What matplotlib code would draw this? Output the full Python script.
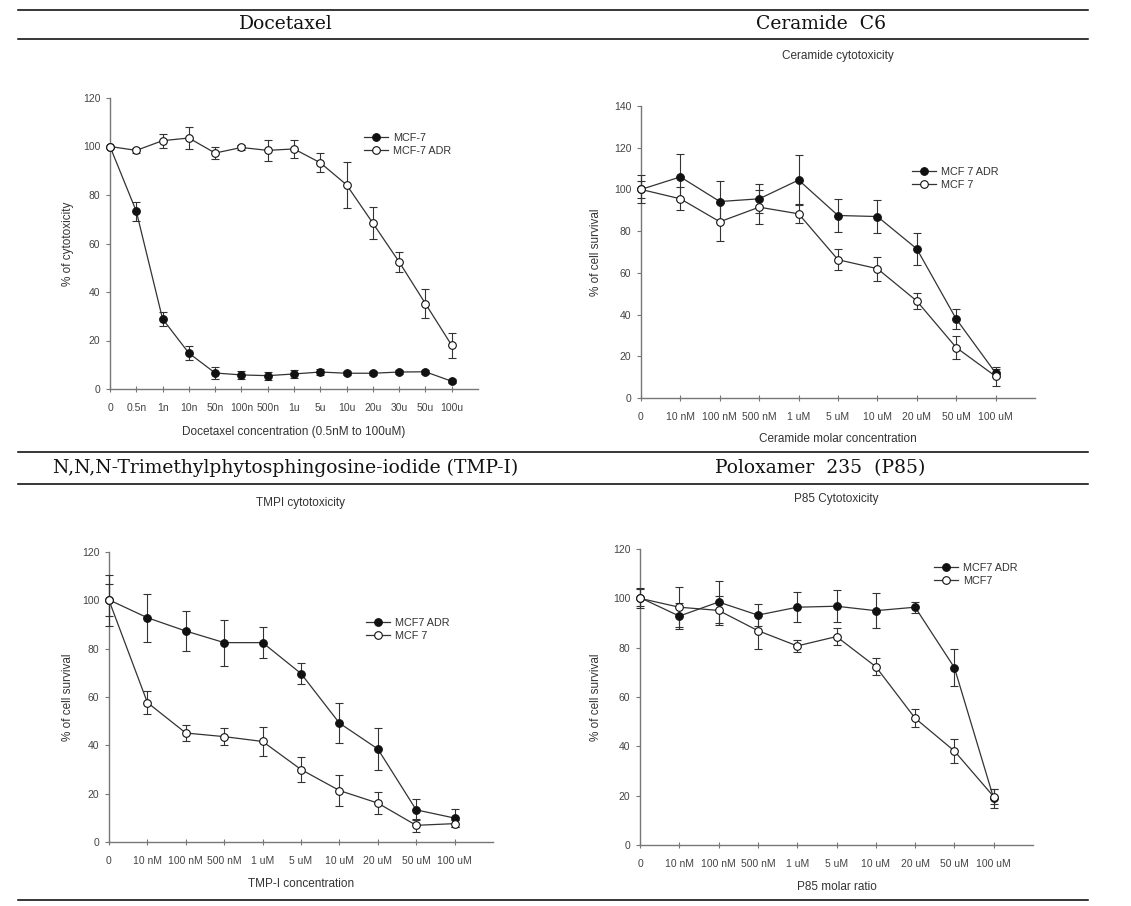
import matplotlib
matplotlib.use('Agg')
import matplotlib.pyplot as plt
from matplotlib.lines import Line2D

plt.rcParams['font.family'] = ['Liberation Sans', 'DejaVu Sans']

W, H = 1131, 906

# --- Docetaxel ---
doc_labels = ['0', '0.5n', '1n', '10n', '50n', '100n', '500n', '1u', '5u',
              '10u', '20u', '30u', '50u', '100u']
doc_mcf7 = [100, 73.3, 28.9, 14.8, 6.6, 5.8, 5.5, 6.2, 7.0, 6.5, 6.5, 7.0, 7.1, 3.2]
doc_mcf7_err = [0, 4, 3, 2.8, 2.3, 1.8, 1.7, 1.6, 1.2, 0.8, 0.8, 1.0, 0.8, 0.8]
doc_adr = [100, 98.4, 102.4, 103.5, 97.3, 99.6, 98.4, 99, 93.3, 84.2, 68.4, 52.4, 35.2, 18]
doc_adr_err = [0, 1, 2.9, 4.7, 2.3, 0.9, 4.3, 3.7, 4, 9.6, 6.6, 4.1, 6, 5.1]

# --- Ceramide C6 ---
conc_labels = ['0', '10 nM', '100 nM', '500 nM', '1 uM', '5 uM', '10 uM',
               '20 uM', '50 uM', '100 uM']
cer_adr = [100, 106, 94.2, 95.5, 104.5, 87.5, 87, 71.5, 37.9, 12]
cer_adr_err = [4, 11, 10, 7, 12, 8, 8, 7.5, 5, 2]
cer_mcf7 = [100, 95.5, 84.5, 91.5, 88.3, 66.3, 62, 46.5, 24.2, 10.4]
cer_mcf7_err = [6.7, 5.5, 9, 8, 4.5, 5, 5.8, 4, 5.7, 4.5]

# --- TMP-I ---
tmp_adr = [100.2, 92.8, 87.3, 82.5, 82.5, 69.7, 49.2, 38.5, 13.3, 9.9]
tmp_adr_err = [6.5, 10, 8.3, 9.5, 6.3, 4.3, 8.3, 8.5, 4.3, 3.8]
tmp_mcf7 = [100, 57.7, 45.1, 43.6, 41.6, 30, 21.3, 16.1, 6.9, 7.6]
tmp_mcf7_err = [10.5, 4.8, 3.3, 3.4, 6, 5, 6.5, 4.5, 2.8, 1.5]

# --- P85 ---
p85_adr = [100.3, 92.8, 98.5, 93.2, 96.4, 96.8, 95, 96.4, 71.9, 18.9]
p85_adr_err = [3.6, 5.2, 8.5, 4.4, 6, 6.5, 7, 2.3, 7.5, 4]
p85_mcf7 = [100, 96.4, 95.1, 86.9, 80.7, 84.5, 72.3, 51.4, 38.1, 19.6]
p85_mcf7_err = [4, 8, 6, 7.3, 2.3, 3.3, 3.4, 3.6, 4.7, 3]


def fx(px):
    return px / W


def fy(py):
    return 1 - py / H


def panel(fig, box, labels, series, ymax, ystep, ylabel, xlabel, xmax,
          ylab_x, xlab_y, leg_xy, title=None, title_y=None):
    left, right, top, bottom = box
    ax = fig.add_axes([fx(left), fy(bottom), fx(right) - fx(left), fy(top) - fy(bottom)])
    x = list(range(len(labels)))
    handles = []
    for vals, errs, filled, name in series:
        face = '#111111' if filled else 'white'
        style = dict(color='#333333', lw=0.9, marker='o', ms=5.5, mfc=face,
                     mec='#111111', mew=0.8)
        ax.errorbar(x, vals, yerr=errs, elinewidth=0.8, capsize=3, capthick=0.8,
                    clip_on=False, zorder=3, **style)
        handles.append(Line2D([], [], label=name, **style))
    ax.set_xlim(0, xmax)
    ax.set_ylim(0, ymax)
    ax.set_xticks(x)
    ax.set_xticklabels(labels)
    ax.set_yticks(range(0, ymax + 1, ystep))
    for s in ['top', 'right']:
        ax.spines[s].set_visible(False)
    for s in ['left', 'bottom']:
        ax.spines[s].set_color('#777777')
        ax.spines[s].set_linewidth(1.0)
    ax.tick_params(axis='x', direction='inout', length=4, width=0.8, color='#777777',
                   labelsize=7.5, labelcolor='#444444', pad=8)
    ax.tick_params(axis='y', direction='out', length=3, width=0.8, color='#777777',
                   labelsize=7.5, labelcolor='#444444', pad=4)
    ax.set_ylabel(ylabel, fontsize=8.5, color='#333333')
    ax.yaxis.set_label_coords(fx(ylab_x), fy((top + bottom) / 2), transform=fig.transFigure)
    ax.set_xlabel(xlabel, fontsize=8.5, color='#333333')
    ax.xaxis.set_label_coords(fx((left + right) / 2), fy(xlab_y), transform=fig.transFigure)
    ax.xaxis.label.set_va('center')
    ax.yaxis.label.set_va('center')
    ax.legend(handles=handles, loc='upper left',
              bbox_to_anchor=(fx(leg_xy[0]), fy(leg_xy[1])),
              bbox_transform=fig.transFigure, frameon=False, fontsize=7.8,
              handlelength=2.2, borderpad=0, borderaxespad=0, labelspacing=0.3,
              handletextpad=0.5, labelcolor='#333333')
    if title:
        fig.text(fx((left + right) / 2), fy(title_y), title, ha='center', va='center',
                 fontsize=8.5, color='#333333')
    return ax


fig = plt.figure(figsize=(W / 100, H / 100), dpi=100)

# table rules and header cells
for yy in [9.5, 39, 452.5, 483.5, 899.5]:
    fig.add_artist(Line2D([fx(18), fx(1088)], [fy(yy), fy(yy)],
                          transform=fig.transFigure, color='black', lw=1.1))
hdr = dict(ha='center', va='center', fontsize=13.5, family='DejaVu Serif', color='#111111')
fig.text(fx(286), fy(24), 'Docetaxel', **hdr)
fig.text(fx(821), fy(24), 'Ceramide  C6', **hdr)
fig.text(fx(286), fy(468), 'N,N,N-Trimethylphytosphingosine-iodide (TMP-I)', **hdr)
fig.text(fx(820), fy(468), 'Poloxamer  235  (P85)', **hdr)

panel(fig, (110, 478, 98, 389), doc_labels,
      [(doc_mcf7, doc_mcf7_err, True, 'MCF-7'),
       (doc_adr, doc_adr_err, False, 'MCF-7 ADR')],
      120, 20, '% of cytotoxicity', 'Docetaxel concentration (0.5nM to 100uM)',
      14, 68, 432, (364, 133))

panel(fig, (641, 1035, 106, 398), conc_labels,
      [(cer_adr, cer_adr_err, True, 'MCF 7 ADR'),
       (cer_mcf7, cer_mcf7_err, False, 'MCF 7')],
      140, 20, '% of cell survival', 'Ceramide molar concentration',
      10, 596, 439, (912, 167), 'Ceramide cytotoxicity', 56)

panel(fig, (109, 493, 552, 842), conc_labels,
      [(tmp_adr, tmp_adr_err, True, 'MCF7 ADR'),
       (tmp_mcf7, tmp_mcf7_err, False, 'MCF 7')],
      120, 20, '% of cell survival', 'TMP-I concentration',
      10, 68, 884, (366, 618), 'TMPI cytotoxicity', 503)

panel(fig, (640, 1033, 549, 845), conc_labels,
      [(p85_adr, p85_adr_err, True, 'MCF7 ADR'),
       (p85_mcf7, p85_mcf7_err, False, 'MCF7')],
      120, 20, '% of cell survival', 'P85 molar ratio',
      10, 596, 887, (934, 563), 'P85 Cytotoxicity', 499)

fig.savefig('out.png', dpi=100)
